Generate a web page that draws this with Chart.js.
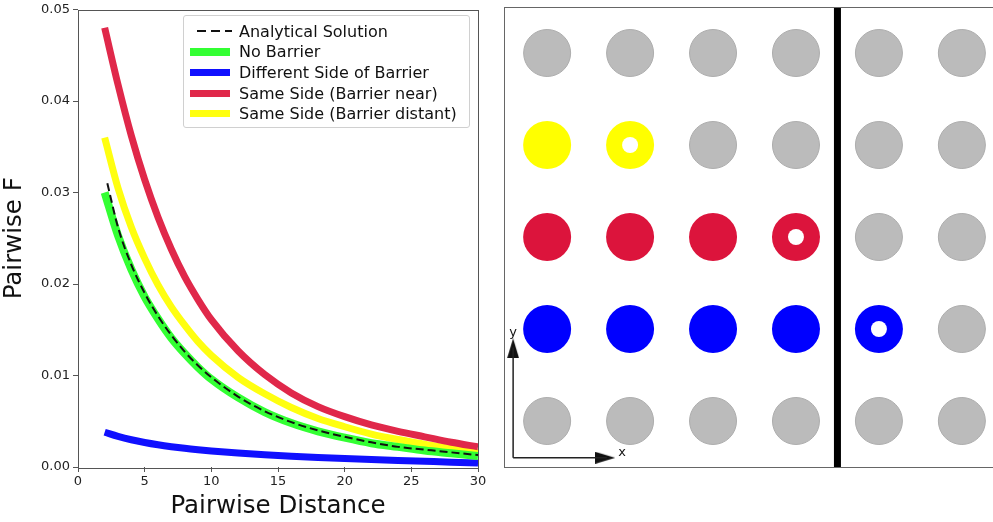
<!DOCTYPE html>
<html>
<head>
<meta charset="utf-8">
<script src="https://cdn.jsdelivr.net/npm/chart.js@4.4.1/dist/chart.umd.min.js"></script>
<style>
  html, body { margin: 0; padding: 0; background: #fff; }
  body { width: 993px; height: 522px; overflow: hidden; position: relative; font-family: "DejaVu Sans", sans-serif; }
  #left-wrap { position: absolute; left: 0; top: 0; width: 490px; height: 522px; }
  #right-wrap { position: absolute; left: 495px; top: 0; width: 520px; height: 522px; }
  #legend {
    position: absolute; left: 183px; top: 15px; width: 287px; height: 113px;
    border: 1px solid #d0d0d0; border-radius: 3px; background: rgba(255,255,255,0.85);
    font-size: 16px; color: #111; box-sizing: border-box; padding-top: 5px;
  }
  .leg-row { display: flex; align-items: center; height: 20.6px; white-space: nowrap; }
  .leg-line { width: 40px; margin-left: 6px; margin-right: 9px; }
</style>
</head>
<body>
<div id="left-wrap"><canvas id="dist-chart" width="490" height="522"></canvas></div>
<div id="right-wrap"><canvas id="grid-chart" width="520" height="522"></canvas></div>
<div id="legend"></div>
<script>
// Curve data
const distance = [2, 3, 4, 5, 6, 7, 8, 9, 10, 12, 14, 16, 18, 20, 22, 24, 26, 28, 30];
const analyticalX = [2.2, 3, 4, 5, 6, 7, 8, 9, 10, 12, 14, 16, 18, 20, 22, 24, 26, 28, 30];
const analytical = [0.0310, 0.0262, 0.0221, 0.0190, 0.0165, 0.0144, 0.0126, 0.0111, 0.0098, 0.0077, 0.0061, 0.0049, 0.0040, 0.0033, 0.0027, 0.0022, 0.0019, 0.0016, 0.0013];
const noBarrier = [0.0300, 0.0253, 0.0216, 0.0186, 0.0162, 0.0141, 0.0124, 0.0109, 0.0096, 0.0076, 0.0060, 0.0048, 0.0039, 0.0032, 0.0026, 0.0022, 0.0018, 0.0015, 0.0012];
const differentSide = [0.00380, 0.00335, 0.00298, 0.00268, 0.00243, 0.00222, 0.00204, 0.00189, 0.00176, 0.00153, 0.00134, 0.00118, 0.00104, 0.00092, 0.00081, 0.00071, 0.00062, 0.00053, 0.00045];
const sameSideNear = [0.0480, 0.0418, 0.0362, 0.0314, 0.0273, 0.0238, 0.0208, 0.0183, 0.0161, 0.0127, 0.0101, 0.0081, 0.0066, 0.0055, 0.0046, 0.0039, 0.0033, 0.0027, 0.0022];
const sameSideDistant = [0.0360, 0.0305, 0.0262, 0.0228, 0.0199, 0.0175, 0.0155, 0.0137, 0.0122, 0.0098, 0.0080, 0.0065, 0.0053, 0.0044, 0.0036, 0.0030, 0.0025, 0.0020, 0.0016];
const xTicks = [0, 5, 10, 15, 20, 25, 30];
const yTicks = [0.00, 0.01, 0.02, 0.03, 0.04, 0.05];

// Grid diagram: colour of each cell (row 0 at top), hollow cells, barrier
const gridCols = [0, 1, 2, 3, 4, 5];
const gridRows = [0, 1, 2, 3, 4];
const cellColors = [
    ['gray', 'gray', 'gray', 'gray', 'gray', 'gray'],
    ['yellow', 'yellow', 'gray', 'gray', 'gray', 'gray'],
    ['red', 'red', 'red', 'red', 'gray', 'gray'],
    ['blue', 'blue', 'blue', 'blue', 'blue', 'gray'],
    ['gray', 'gray', 'gray', 'gray', 'gray', 'gray']
];
const hollowCells = [[1, 1], [3, 2], [4, 3]];
const barrierX = 3.5;
const axisOrigin = [-0.41, 4.40];
const axisXEnd = [0.82, 4.40];
const axisYEnd = [-0.41, 3.10];

const palette = {
    gray: '#bbbbbb',
    yellow: '#ffff00',
    red: '#dc143c',
    blue: '#0000ff'
};

function toPoints(xs, ys) {
    return xs.map((x, i) => ({ x: x, y: ys[i] }));
}

// Frame plugin: draws all four spines like matplotlib
const framePlugin = {
    id: 'frame',
    afterDatasetsDraw(chart, args, opts) {
        const a = chart.chartArea;
        const ctx = chart.ctx;
        ctx.save();
        ctx.strokeStyle = opts.color || '#555';
        ctx.lineWidth = 1;
        ctx.strokeRect(Math.round(a.left) + 0.5, Math.round(a.top) + 0.5, Math.round(a.right - a.left), Math.round(a.bottom - a.top));
        ctx.restore();
    }
};

// Left panel: pairwise F against distance
function drawDistanceChart() {
    const lineDefaults = { pointRadius: 0, fill: false, cubicInterpolationMode: 'monotone' };
    const datasets = [
        Object.assign({ label: 'Analytical Solution', data: toPoints(analyticalX, analytical), borderColor: '#111', borderWidth: 2, borderDash: [8, 4] }, lineDefaults),
        Object.assign({ label: 'No Barrier', data: toPoints(distance, noBarrier), borderColor: '#33ff33', borderWidth: 8 }, lineDefaults),
        Object.assign({ label: 'Different Side of Barrier', data: toPoints(distance, differentSide), borderColor: '#1010ff', borderWidth: 7 }, lineDefaults),
        Object.assign({ label: 'Same Side (Barrier near)', data: toPoints(distance, sameSideNear), borderColor: '#e0284a', borderWidth: 7 }, lineDefaults),
        Object.assign({ label: 'Same Side (Barrier distant)', data: toPoints(distance, sameSideDistant), borderColor: '#ffff10', borderWidth: 7 }, lineDefaults)
    ];

    const ctx = document.getElementById('dist-chart').getContext('2d');
    const chart = new Chart(ctx, {
        type: 'line',
        data: { datasets: datasets },
        plugins: [framePlugin],
        options: {
            responsive: false,
            animation: false,
            layout: { autoPadding: false, padding: { top: 7, right: 12, left: 0, bottom: 0 } },
            plugins: { legend: { display: false }, tooltip: { enabled: false }, frame: { color: '#555' } },
            scales: {
                x: {
                    type: 'linear', min: 0, max: 30,
                    afterBuildTicks: (scale) => { scale.ticks = xTicks.map(v => ({ value: v })); },
                    afterFit: (scale) => { scale.height = 55; },
                    grid: { display: true, drawOnChartArea: false, drawTicks: true, tickLength: 5, color: '#555' },
                    border: { display: false },
                    ticks: { color: '#222', font: { family: 'DejaVu Sans', size: 13 }, padding: 2, maxRotation: 0 },
                    title: { display: true, text: 'Pairwise Distance', color: '#111', font: { family: 'DejaVu Sans', size: 24.5 }, padding: { top: 0, bottom: 1 } }
                },
                y: {
                    type: 'linear', min: 0, max: 0.05,
                    afterBuildTicks: (scale) => { scale.ticks = yTicks.map(v => ({ value: v })); },
                    afterFit: (scale) => { scale.width = 78; },
                    grid: { display: true, drawOnChartArea: false, drawTicks: true, tickLength: 5, color: '#555' },
                    border: { display: false },
                    ticks: { color: '#222', font: { family: 'DejaVu Sans', size: 13, lineHeight: 1 }, padding: 3, callback: v => v.toFixed(2) },
                    title: { display: true, text: 'Pairwise F', color: '#111', font: { family: 'DejaVu Sans', size: 24.5 }, padding: { top: 0, bottom: 0 } }
                }
            }
        }
    });
    buildLegend(chart);
}

// HTML legend built from the chart's datasets
function buildLegend(chart) {
    const box = document.getElementById('legend');
    chart.data.datasets.forEach(ds => {
        const row = document.createElement('div');
        row.className = 'leg-row';
        const line = document.createElement('div');
        line.className = 'leg-line';
        if (ds.borderDash) {
            line.style.height = '2px';
            line.style.background = 'repeating-linear-gradient(90deg, ' + ds.borderColor + ' 0 9px, transparent 9px 14px)';
            line.style.marginLeft = '13px';
            line.style.width = '35px';
            line.style.marginRight = '7px';
        } else {
            line.style.height = ds.borderWidth + 'px';
            line.style.background = ds.borderColor;
        }
        const label = document.createElement('span');
        label.textContent = ds.label;
        row.appendChild(line);
        row.appendChild(label);
        box.appendChild(row);
    });
}

// Arrowhead images used as point styles
function makeArrowHead(dir) {
    const c = document.createElement('canvas');
    const len = 20, half = 6;
    c.width = dir === 'right' ? len : half * 2;
    c.height = dir === 'right' ? half * 2 : len;
    const g = c.getContext('2d');
    g.fillStyle = '#111';
    g.beginPath();
    if (dir === 'right') {
        g.moveTo(0, 0); g.lineTo(len, half); g.lineTo(0, half * 2);
    } else {
        g.moveTo(0, len); g.lineTo(half, 0); g.lineTo(half * 2, len);
    }
    g.closePath();
    g.fill();
    return c;
}

// Labels for the small x/y axes in the diagram
const axisLabelPlugin = {
    id: 'axisLabels',
    afterDatasetsDraw(chart) {
        const xs = chart.scales.x, ys = chart.scales.y;
        const ctx = chart.ctx;
        ctx.save();
        ctx.fillStyle = '#111';
        ctx.font = '13px "DejaVu Sans"';
        ctx.textAlign = 'left';
        ctx.textBaseline = 'middle';
        ctx.fillText('x', xs.getPixelForValue(axisXEnd[0]) + 3, ys.getPixelForValue(axisXEnd[1]) - 5);
        ctx.textAlign = 'center';
        ctx.fillText('y', xs.getPixelForValue(axisYEnd[0]), ys.getPixelForValue(axisYEnd[1]) - 6);
        ctx.restore();
    }
};

// Right panel: grid of sites with the barrier
function drawGridChart() {
    const groups = { gray: [], yellow: [], red: [], blue: [] };
    gridRows.forEach(r => {
        gridCols.forEach(c => {
            groups[cellColors[r][c]].push({ x: c, y: r });
        });
    });
    const holes = hollowCells.map(h => ({ x: h[0], y: h[1] }));

    const headX = { x: axisXEnd[0] - 0.12, y: axisXEnd[1] };
    const headY = { x: axisYEnd[0], y: axisYEnd[1] + 0.11 };

    const datasets = [
        { type: 'scatter', label: 'holes', data: holes, pointRadius: 8, pointBackgroundColor: '#fff', pointBorderWidth: 0 },
        { type: 'line', label: 'barrier', data: [{ x: barrierX, y: -0.5 }, { x: barrierX, y: 4.5 }], borderColor: '#000', borderWidth: 7, pointRadius: 0 },
        { type: 'line', label: 'x axis', data: [{ x: axisOrigin[0], y: axisOrigin[1] }, { x: axisXEnd[0] - 0.1, y: axisXEnd[1] }], borderColor: '#222', borderWidth: 1.5, pointRadius: 0 },
        { type: 'line', label: 'y axis', data: [{ x: axisOrigin[0], y: axisOrigin[1] }, { x: axisYEnd[0], y: axisYEnd[1] + 0.1 }], borderColor: '#222', borderWidth: 1.5, pointRadius: 0 },
        { type: 'scatter', label: 'x head', data: [headX], pointStyle: makeArrowHead('right'), pointRadius: 10 },
        { type: 'scatter', label: 'y head', data: [headY], pointStyle: makeArrowHead('up'), pointRadius: 10 },
        { type: 'scatter', label: 'yellow', data: groups.yellow, pointRadius: 24, pointBackgroundColor: palette.yellow, pointBorderColor: palette.yellow, pointBorderWidth: 0 },
        { type: 'scatter', label: 'red', data: groups.red, pointRadius: 24, pointBackgroundColor: palette.red, pointBorderColor: palette.red, pointBorderWidth: 0 },
        { type: 'scatter', label: 'blue', data: groups.blue, pointRadius: 24, pointBackgroundColor: palette.blue, pointBorderColor: palette.blue, pointBorderWidth: 0 },
        { type: 'scatter', label: 'gray', data: groups.gray, pointRadius: 23.5, pointBackgroundColor: palette.gray, pointBorderColor: '#adadad', pointBorderWidth: 1 }
    ];

    const ctx = document.getElementById('grid-chart').getContext('2d');
    new Chart(ctx, {
        type: 'scatter',
        data: { datasets: datasets },
        plugins: [framePlugin, axisLabelPlugin],
        options: {
            responsive: false,
            animation: false,
            layout: { autoPadding: false, padding: { top: 7, left: 9, right: 10, bottom: 55 } },
            plugins: { legend: { display: false }, tooltip: { enabled: false }, frame: { color: '#666' } },
            elements: { point: { hoverRadius: 0 } },
            scales: {
                x: { type: 'linear', min: -0.52, max: 5.52, display: false },
                y: { type: 'linear', min: -0.5, max: 4.5, reverse: true, display: false }
            }
        }
    });
}

document.addEventListener('DOMContentLoaded', function() {
    drawDistanceChart();
    drawGridChart();
});
</script>
</body>
</html>
